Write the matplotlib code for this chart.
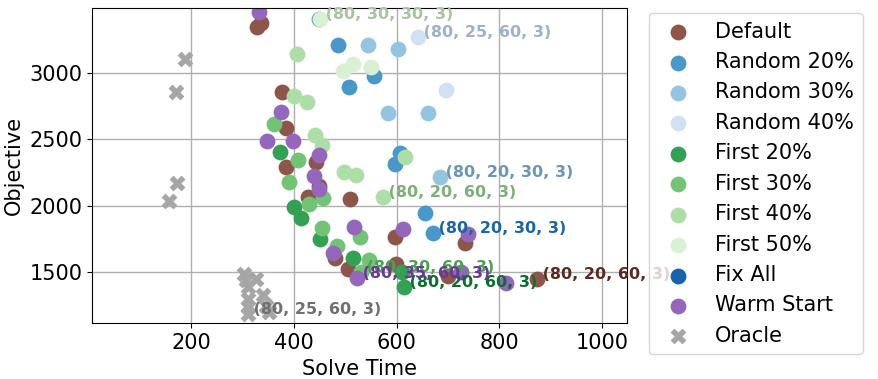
import matplotlib
matplotlib.use("Agg")
import matplotlib.pyplot as plt
import numpy as np

# ---------------- data ----------------
series_names = ["Default", "Random 20%", "Random 30%", "Random 40%",
                "First 20%", "First 30%", "First 40%", "First 50%",
                "Fix All", "Warm Start", "Oracle"]

default_x = [335, 329, 377, 385, 384, 443, 427, 510, 448, 596, 733, 874, 505, 599, 700, 481]
default_y = [3373, 3343, 2853, 2582, 2294, 2327, 2066, 2051, 2148, 1768, 1718, 1447, 1525, 1560, 1472, 1610]

rand20_x = [448, 486, 508, 556, 606, 596, 655, 671]
rand20_y = [3402, 3208, 2890, 2975, 2399, 2314, 1943, 1793]

rand30_x = [544, 603, 583, 662, 684]
rand30_y = [3208, 3176, 2695, 2695, 2218]

rand40_x = [642, 696]
rand40_y = [3271, 2870]

first20_x = [372, 401, 414, 450, 515, 614, 611]
first20_y = [2402, 1988, 1910, 1748, 1610, 1387, 1505]

first30_x = [361, 408, 390, 457, 429, 455, 483, 528, 546, 531]
first30_y = [2617, 2344, 2179, 2061, 2013, 1831, 1700, 1763, 1593, 1505]

first40_x = [406, 400, 425, 442, 455, 497, 520, 573, 617]
first40_y = [3140, 2827, 2778, 2532, 2457, 2254, 2229, 2068, 2364]

first50_x = [450, 496, 516, 551]
first50_y = [3400, 3013, 3063, 3045]

fixall_x = []
fixall_y = []

warm_x = [333, 375, 347, 398, 449, 439, 449, 517, 612, 739, 477, 523, 726, 812]
warm_y = [3458, 2702, 2487, 2489, 2379, 2224, 2126, 1843, 1823, 1786, 1643, 1459, 1500, 1417]

oracle_x = [188, 170, 173, 156, 302, 326, 307, 310, 339, 310, 346, 310, 352, 310]
oracle_y = [3103, 2855, 2173, 2033, 1490, 1453, 1440, 1389, 1327, 1302, 1250, 1238, 1201, 1189]

# annotated configuration per series: (series, x, y, text)
annotations = [
    ("Default", 874, 1447, "(80, 20, 60, 3)"),
    ("Random 20%", 671, 1793, "(80, 20, 30, 3)"),
    ("Random 30%", 684, 2218, "(80, 20, 30, 3)"),
    ("Random 40%", 642, 3271, "(80, 25, 60, 3)"),
    ("First 20%", 614, 1387, "(80, 20, 60, 3)"),
    ("First 30%", 531, 1505, "(80, 30, 60, 3)"),
    ("First 40%", 573, 2068, "(80, 20, 60, 3)"),
    ("First 50%", 450, 3400, "(80, 30, 30, 3)"),
    ("Warm Start", 523, 1459, "(80, 35, 60, 3)"),
    ("Oracle", 310, 1189, "(80, 25, 60, 3)"),
]

colors = {
    "Default": "#8c564b", "Random 20%": "#4a98c9", "Random 30%": "#94c4df",
    "Random 40%": "#cfe1f2", "First 20%": "#33a055", "First 30%": "#72c375",
    "First 40%": "#aedea7", "First 50%": "#d9f0d3", "Fix All": "#1764ab",
    "Warm Start": "#9467bd", "Oracle": "#a6a6a6",
}
label_colors = {
    "Default": "#5b2a20", "Random 20%": "#1b65a0", "Random 30%": "#6898b6",
    "Random 40%": "#9db2c6", "First 20%": "#0a6e2e", "First 30%": "#4e9e55",
    "First 40%": "#7daf78", "First 50%": "#a9c3a3", "Fix All": "#0d3f73",
    "Warm Start": "#6a3895", "Oracle": "#707070",
}

data = {
    "Default": (default_x, default_y), "Random 20%": (rand20_x, rand20_y),
    "Random 30%": (rand30_x, rand30_y), "Random 40%": (rand40_x, rand40_y),
    "First 20%": (first20_x, first20_y), "First 30%": (first30_x, first30_y),
    "First 40%": (first40_x, first40_y), "First 50%": (first50_x, first50_y),
    "Fix All": (fixall_x, fixall_y), "Warm Start": (warm_x, warm_y),
    "Oracle": (oracle_x, oracle_y),
}

# ---------------- plot ----------------
fig = plt.figure(figsize=(8.79, 3.79), dpi=100)
ax = fig.add_axes([0.1047, 0.1470, 0.6083, 0.8312])
ax.set_axisbelow(True)

for name in series_names:
    xs, ys = data[name]
    marker = "X" if name == "Oracle" else "o"
    ax.scatter(xs, ys, s=130, c=colors[name], marker=marker, linewidths=0,
               label=name)

for name, x, y, txt in annotations:
    ax.text(x, y, " " + txt, color=label_colors[name], fontsize=11.5,
            fontweight="bold")

ax.set_xlim(7, 1048)
ax.set_ylim(1117, 3484)
ax.set_xticks([200, 400, 600, 800, 1000])
ax.set_yticks([1500, 2000, 2500, 3000])
ax.tick_params(labelsize=15)
ax.grid(True, color="#b0b0b0", linewidth=1)
ax.set_xlabel("Solve Time", fontsize=15)
ax.set_ylabel("Objective", fontsize=15)

ax.legend(loc="upper left", bbox_to_anchor=(1.041, 0.984), borderaxespad=0,
          fontsize=15, scatterpoints=1)

fig.savefig("out.png", dpi=100)
